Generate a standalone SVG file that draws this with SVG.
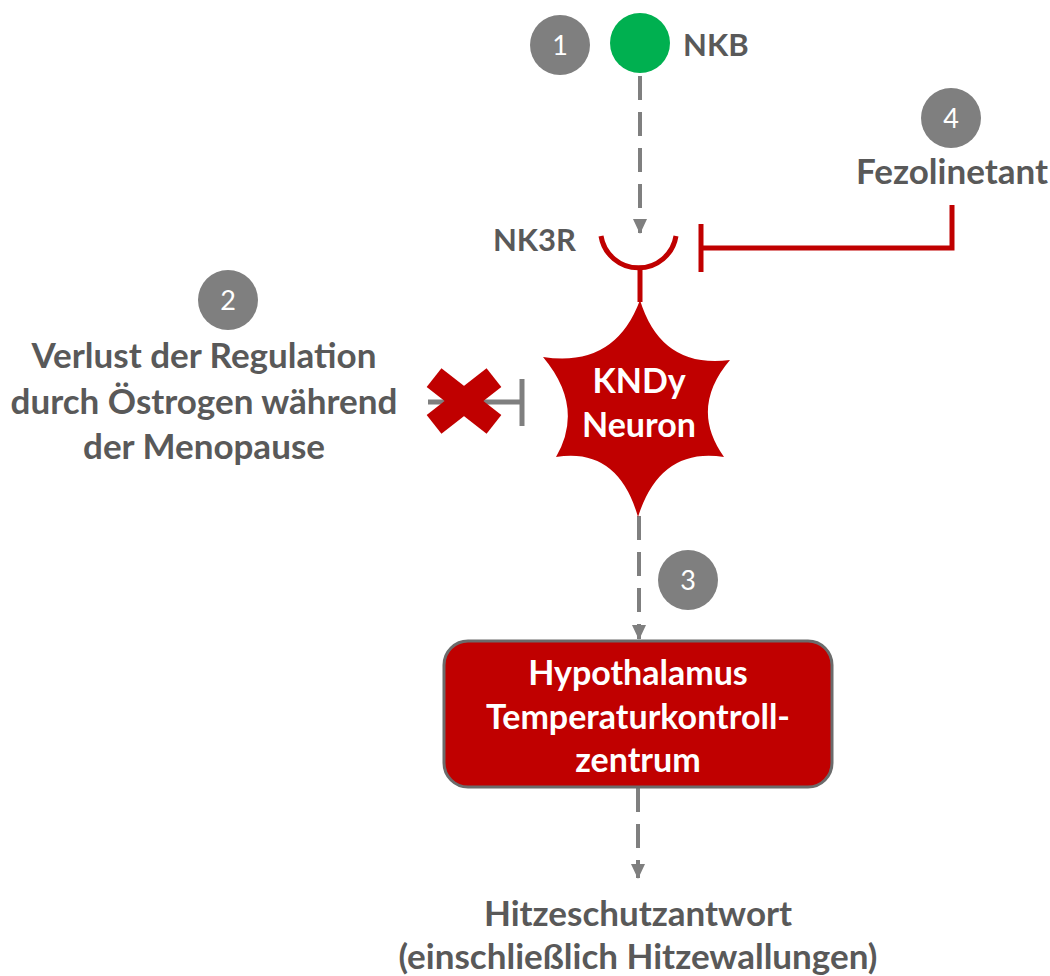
<svg xmlns="http://www.w3.org/2000/svg" width="1050" height="976" viewBox="0 0 1050 976">
<defs>
<style>
.lbl{font-family:Lato,"Open Sans","Liberation Sans",sans-serif;font-weight:700;font-size:35px;fill:#595959;text-anchor:middle}
.sm{font-size:31px}
.wlbl{font-family:Lato,"Open Sans","Liberation Sans",sans-serif;font-weight:700;font-size:34px;fill:#ffffff;text-anchor:middle}
.num{font-family:Lato,"Open Sans","Liberation Sans",sans-serif;font-size:27px;fill:#ffffff;text-anchor:middle}
.badge{fill:#7f7f7f}
.dash{stroke:#7f7f7f;stroke-width:4;fill:none;stroke-dasharray:24 12}
.red{stroke:#c00000;stroke-width:5;fill:none}
.grayline{stroke:#7f7f7f;stroke-width:5;fill:none}
</style>
<marker id="arr" markerWidth="15" markerHeight="14" refX="14" refY="7" orient="auto" markerUnits="userSpaceOnUse">
<path d="M0,0 L15,7 L0,14 Z" fill="#7f7f7f"/>
</marker>
</defs>
<rect width="1050" height="976" fill="#ffffff"/>

<g id="connectors">
<path class="dash" d="M640,76 V233" marker-end="url(#arr)"/>
<path class="dash" d="M639,516 V639" marker-end="url(#arr)"/>
<path class="dash" d="M638,788 V878" marker-end="url(#arr)"/>
<path class="red" d="M640,266 V302"/>
<path class="red" d="M952,205 V248 H701"/>
<path class="red" d="M701,224 V272"/>
<path class="grayline" d="M428,402 H522"/>
<path class="grayline" d="M522,379 V426"/>
</g>

<g id="badge1"><circle class="badge" cx="560" cy="45" r="30"/><text class="num" x="560" y="55">1</text></g>
<g id="nkb"><circle cx="640" cy="43" r="30" fill="#00b050"/><text class="lbl sm" x="683" y="56" style="text-anchor:start">NKB</text></g>

<g id="badge4"><circle class="badge" cx="951" cy="118" r="30"/><text class="num" x="951" y="128">4</text></g>
<g id="fezolinetant"><text class="lbl" x="952" y="184">Fezolinetant</text></g>

<g id="nk3r">
<text class="lbl sm" x="576" y="251" style="text-anchor:end">NK3R</text>
<path class="red" d="M601,236 A38,38 0 0 0 676,236"/>
</g>

<g id="badge2"><circle class="badge" cx="228" cy="300" r="30"/><text class="num" x="228" y="310">2</text></g>
<g id="verlust">
<text class="lbl" x="204" y="368">Verlust der Regulation</text>
<text class="lbl" x="204" y="414">durch Östrogen während</text>
<text class="lbl" x="204" y="459">der Menopause</text>
</g>

<g id="cross">
<rect x="426" y="389" width="76" height="24" fill="#c00000" transform="rotate(38 464 401)"/>
<rect x="426" y="389" width="76" height="24" fill="#c00000" transform="rotate(-38 464 401)"/>
</g>

<g id="kndy">
<path fill="#c00000" d="M640,300 Q661,369 730,360 Q689,408 724,457 Q660,447 638,517 Q618,447 556,457 Q585,407 543,357 Q615,368 640,300 Z"/>
<text class="wlbl" x="639" y="393">KNDy</text>
<text class="wlbl" x="639" y="437">Neuron</text>
</g>

<g id="badge3"><circle class="badge" cx="688" cy="580" r="30"/><text class="num" x="688" y="590">3</text></g>

<g id="hypothalamus">
<rect x="444" y="641" width="388" height="146" rx="24" ry="24" fill="#c00000" stroke="#6b6b6b" stroke-width="3"/>
<text class="wlbl" x="638" y="685">Hypothalamus</text>
<text class="wlbl" x="638" y="729">Temperaturkontroll-</text>
<text class="wlbl" x="638" y="772">zentrum</text>
</g>

<g id="response">
<text class="lbl" x="638" y="926">Hitzeschutzantwort</text>
<text class="lbl" x="638" y="969">(einschließlich Hitzewallungen)</text>
</g>
</svg>
